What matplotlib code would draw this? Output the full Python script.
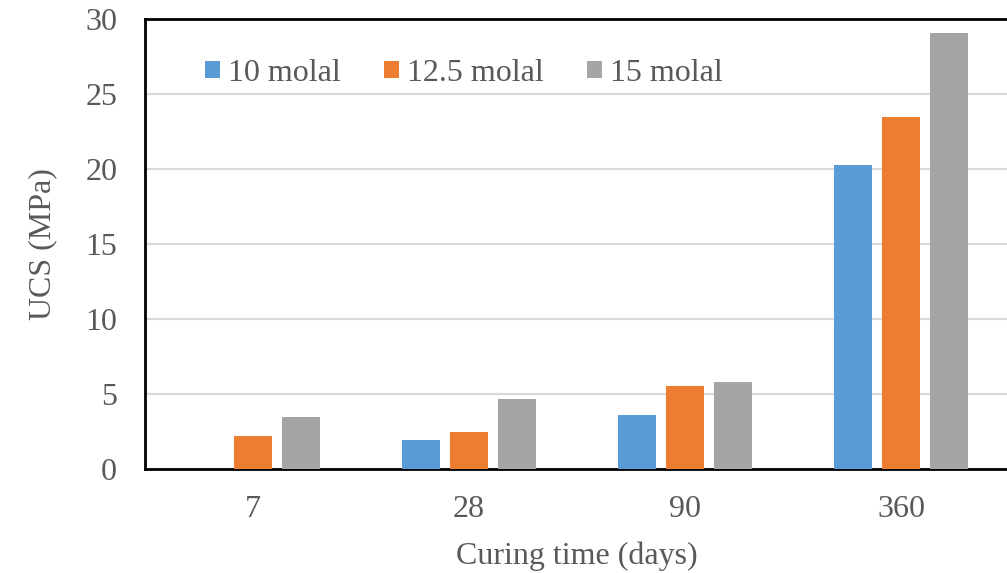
import numpy as np
from matplotlib import pyplot as plt

plt.rcParams['font.family'] = ['Liberation Serif', 'DejaVu Serif']

# data
curing_days = ['7', '28', '90', '360']
ucs_10 = [0.0, 1.93, 3.6, 20.25]
ucs_12_5 = [2.2, 2.47, 5.52, 23.5]
ucs_15 = [3.47, 4.67, 5.8, 29.05]
series_labels = ['10 molal', '12.5 molal', '15 molal']

colors = ['#5B9BD5', '#ED7D31', '#A5A5A5']
text_c = '#595959'

fig = plt.figure(figsize=(10.07, 5.73), dpi=100)
ax = fig.add_axes([0.144, 0.1815, 0.858, 0.7853])

x = np.arange(len(curing_days))
w = 0.176
step = 0.222
for i, (vals, lab) in enumerate(zip([ucs_10, ucs_12_5, ucs_15], series_labels)):
    ax.bar(x + (i - 1) * step, vals, width=w, color=colors[i], label=lab, zorder=3)

ax.set_xlim(-0.5, 3.5)
ax.set_ylim(0, 30)
ax.set_yticks(range(0, 31, 5))
ax.set_xticks(x)
ax.set_xticklabels(curing_days)
ax.yaxis.grid(True, color='#D9D9D9', linewidth=1.5, zorder=0)
ax.set_axisbelow(True)

for s in ['left', 'top', 'bottom']:
    ax.spines[s].set_linewidth(2)
    ax.spines[s].set_color('black')
ax.spines['right'].set_visible(False)

ax.tick_params(axis='both', length=0, labelsize=23, labelcolor=text_c)
ax.tick_params(axis='y', pad=20)
ax.tick_params(axis='x', pad=19)

ax.set_ylabel('UCS (MPa)', fontsize=23, color=text_c, labelpad=20)
ax.set_xlabel('Curing time (days)', fontsize=23, color=text_c, labelpad=12)

leg = ax.legend(loc='upper left', bbox_to_anchor=(0.036, 0.975), ncol=3, frameon=False,
                fontsize=23, handlelength=0.47, handleheight=0.47, handletextpad=0.25,
                columnspacing=1.35, labelcolor=text_c)

plt.savefig('out.png', dpi=100)
